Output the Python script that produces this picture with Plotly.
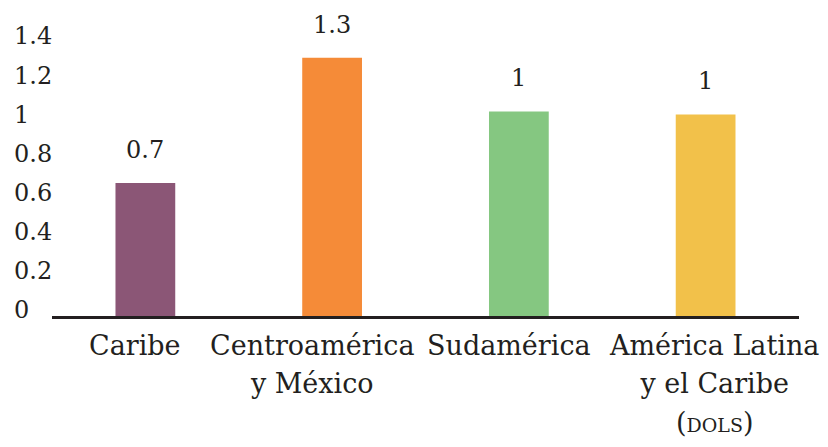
import plotly.graph_objects as go

# Regional values
categories = ["Caribe", "Centroamérica y México", "Sudamérica",
              "América Latina y el Caribe (DOLS)"]
label_lines = [
    ["Caribe"],
    ["Centroamérica", "y México"],
    ["Sudamérica"],
    ["América Latina", "y el Caribe", "(<span style='font-size:19px'>DOLS</span>)"],
]
values = [0.68, 1.32, 1.045, 1.03]
colors = ["#8B5676", "#F58B38", "#85C781", "#F2C14A"]

# horizontal nudges (px) for the category captions
caption_nudge = [-10, -20, -10, 8]

ink = "#231F20"
serif = "DejaVu Serif"


def fmt(v):
    s = f"{v:.1f}"
    return s[:-2] if s.endswith(".0") else s


fig = go.Figure(
    go.Bar(
        x=categories,
        y=values,
        marker=dict(color=colors, line=dict(width=0)),
        hoverinfo="skip",
    )
)

# value labels above each bar
for c, v in zip(categories, values):
    fig.add_annotation(
        x=c, y=v, text=fmt(v), showarrow=False,
        yanchor="bottom", yshift=17,
        font=dict(family=serif, size=24, color=ink),
    )

# category captions under the axis; the base size sets the line spacing
for c, lines, dx in zip(categories, label_lines, caption_nudge):
    txt = "<br>".join(f"<span style='font-size:27px'>{ln}</span>" for ln in lines)
    fig.add_annotation(
        x=c, y=0, text=txt, showarrow=False,
        yanchor="top", yshift=-12, xshift=dx, align="center",
        font=dict(family=serif, size=29.5, color=ink),
    )

fig.update_layout(
    width=828, height=447,
    margin=dict(l=8, r=29, t=42, b=131, autoexpand=False),
    paper_bgcolor="white", plot_bgcolor="white",
    bargap=0.68,
    showlegend=False,
    font=dict(family=serif, color=ink),
    xaxis=dict(
        domain=[0.0556, 1],
        type="category",
        range=[-0.5, len(categories) - 0.5],
        showline=True, linecolor=ink, linewidth=2.5,
        ticks="", showticklabels=False, automargin=False,
        showgrid=False, zeroline=False,
        anchor="y",
    ),
    yaxis=dict(
        range=[0, 1.4], dtick=0.2, tickformat=".1~f",
        anchor="free", position=0, side="right", automargin=False,
        showline=False, showgrid=False, zeroline=False, ticks="",
        ticklabelshift=-6, ticklabelstandoff=5,
        tickfont=dict(family=serif, size=24, color=ink),
    ),
)

fig.write_html("out.html")
